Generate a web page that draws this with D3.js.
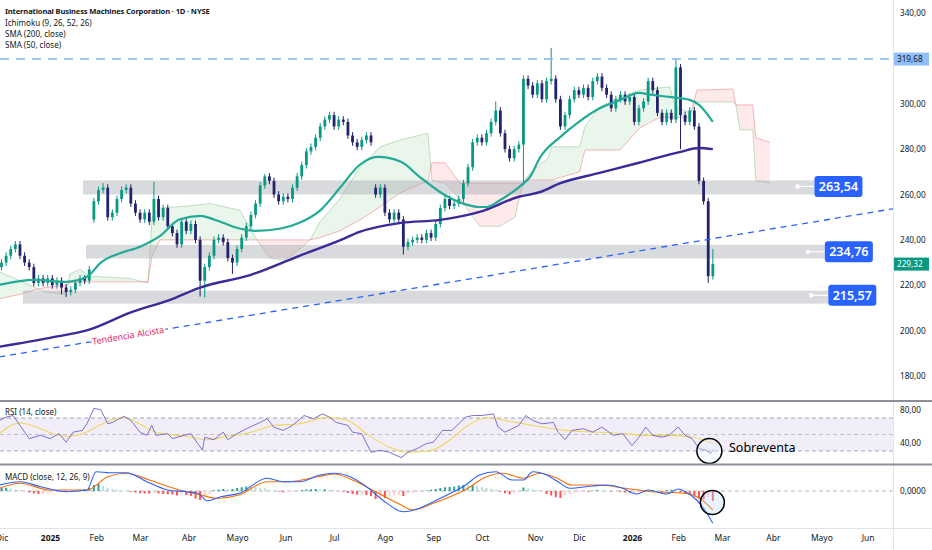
<!DOCTYPE html>
<html>
<head>
<meta charset="utf-8">
<script src="https://cdn.jsdelivr.net/npm/d3@7"></script>
<style>
  html, body { margin: 0; padding: 0; background: #fff; }
  svg { display: block; font-family: "Noto Sans", sans-serif; }
</style>
</head>
<body>
<div id="chart"></div>
<script>
// ---- data (bar index = trading days from 2 Jan 2025) ----
const firstBar = -21, barStep = 2;
const closes = [230,233,236,238,233,230,228,221,223,221,
  223,220,222,219,217,218,221,223,222,227,
  257,262,263,250,252,258,262,263,256,252,
  249,252,248,258,250,254,246,243,238,248,
  244,247,240,222,228,233,240,241,239,232,
  230,236,241,246,251,256,264,268,266,260,
  257,259,258,263,268,273,279,281,285,290,
  293,295,290,293,292,286,283,281,284,286,
  283,260,263,252,249,252,249,237,239,240,
  241,240,243,241,247,254,258,255,256,258,
  265,272,283,285,283,287,292,297,287,280,
  276,280,282,311,308,304,309,302,310,311,
  302,290,295,302,306,304,307,303,310,312,
  307,304,298,302,304,301,303,292,298,301,
  310,306,296,292,296,293,316,295,292,297,
  290,266,257,224,229.32];
const gapOpens = { 0: 228, 20: 249, 81: 263 };
const spikeHighs = { 22: 265, 33: 265.6, 57: 269, 107: 301, 119: 324.6, 146: 319.5, 154: 236 };
const spikeLows = { 13: 216, 14: 214.8, 43: 215, 44: 214.5, 50: 225, 87: 233.5, 113: 264, 147: 280, 153: 221 };

const sma50Idx = [-22,-7,7,16,22,30,39,48,56,65,71,82,89,100,108,117,126,134,142,152,160,169,178,186,189,195,204,208,212,221,229,238,247,255,260,268,277,281,287];
const sma50Vals = [220.2,222.4,221.5,223.7,230,234,237,242,249,250.6,249,245,244,245,247.5,253,263.5,273,276.6,274.4,267.8,261,256.3,254.5,254.5,257.6,264,268,276,285.4,292,298,301.7,304.8,304,303,301.7,299.5,292];
const sma200Idx = [-22,0,17,35,52,65,87,108,126,134,152,169,186,203,212,221,238,255,273,281,287];
const sma200Vals = [192.9,196.8,200.4,208,213.6,219,224.6,233,240,243.5,247.5,248.8,252.3,259,261,265,269.5,274,278.8,280.5,280];

const cloudIdx = [-22,-13,-6.5,-2.2,6.5,8.7,13,17.3,34.6,42.4,44.2,47.6,60.6,69.3,82.3,89.6,95.2,101.7,108.2,112.6,116.9,125.5,134.2,142.9,151.5,163.6,165.4,171,177.5,186.1,194.8,201.3,204.8,207.8,215.6,217.3,229.4,231.6,238.1,246.8,255.4,264.1,268.4,270.6,277.1,280.1,295.7,297,298.7,304.3,305.6,311.7];
const spanA = [226,222,219,217,216,225,227,224,223,221,250,254,255,256,253,240,232,231,236,240,248,258,272,281,284,287,266,265,258,246,246,250,265,269.5,276,281,281,290,298.6,303,306,307,307.4,298.6,296,300.8,300.8,299.5,288.5,288.5,266,265];
const spanB = [214,216,218,219,220,221,221.5,221.5,221.5,221.5,233,240,240,240,240,240,240,240,240,240,241,244,248.8,254.5,260.7,266,274,274,265,265,265,265,265,266.4,266.4,266.4,270,279.6,279.6,279.6,289.4,294,294,294,294,306,306.5,299.5,299.5,299.5,285,283];

const rsiIdx = [-22,-19,-16,-13,-9,-4,0,4,7,10,14,16,19,22,25,27,32,35,39,42,44,46,51,53,58,61,64,66,67,71,75,77,81,85,91,94,97,101,105,110,114,118,121,124,129,131,135,139,143,147,152,155,159,163,166,170,174,180,183,187,192,194,197,200,203,206,209,213,218,220,223,226,231,235,239,244,248,252,255,258,261,265,268,272,275,278,281,284,286,287];
const rsiVals = [67,71,73,61,45,49,45,51,40.6,52.8,55,63,81.7,80,63,64.6,72,67,52.8,49,61,49,51,45,49,51,39,31,46.7,43.7,52.8,43.7,51,57,64.6,69,58.8,55,61,73,69,75,71,64.6,61,52.8,51,28.4,31,28.4,22,28.4,33,39,40.6,55,55,71,73,73,75,59,52.8,57,61,73,67,63,64.6,52.8,43.7,55,57,52.8,59,49,51,36.6,46.7,59,49,46.7,49,59,49,45,33,31,26.8,31];
const rsiMaIdx = [-22,-13,7,14,26,32,40,46,59,68,77,87,97,108,120,129,137,147,156,165,173,180,189,197,209,223,238,249,258,270,278,287];
const rsiMaVals = [51,64,47.8,51,67,70.6,61,52.8,47.8,43.7,47.8,52.8,61,63,70.6,67,51,34.6,28.4,30.6,43,59,70.6,67,61,55,52.8,51,49,49,47,39];

const macdIdx = [-22,-13,-4,7,16,20,26,33,42,51,59,64,68,74,82,94,101,108,117,123,130,137,144,153,160,169,180,186,193,200,205,209,215,220,225,235,241,248,254,259,267,272,275,280,284,287];
const macdVals = [2.4,3.7,1.7,-0.3,0.4,7.7,7.3,7.3,3.7,0.4,-0.3,-0.9,-3.9,-2.3,-0.9,5.1,3.7,3.7,6.4,7.1,5.7,1.7,-3.6,-8.3,-6.9,-2.9,2.4,6.4,7.7,4.4,4.4,7.7,6.4,3.7,1.1,2,2.4,1.1,-1.2,0.4,-1.2,0.8,-0.3,-3.6,-8.3,-12.9];
const signalIdx = [-22,-13,0,16,25,33,43,56,65,72,82,94,103,116,123,131,141,152,157,166,180,189,196,205,212,219,226,238,249,261,272,278,284,287];
const signalVals = [1.1,3.1,0.4,0.4,5.7,7.1,4.4,0.4,-1.5,-2.9,-1.5,3.7,3.7,5.7,6.8,4.4,-0.3,-5.6,-7.6,-4.9,0.6,5.7,7.1,5.1,7.1,5.4,2.4,2.4,1.1,-0.3,-0.7,-1.5,-4.9,-7.6];
const histVals = [1.2,1.3,1.0,0.7,0.4,0.1,-0.6,-1.0,-1.2,-1.0,
  -0.8,-0.6,-0.5,-0.3,-0.4,-0.2,0.3,0.5,0.8,1.2,
  2.4,2.8,2.0,1.2,0.8,0.5,0.2,0.1,-0.3,-0.6,
  -0.9,-1.0,-1.1,-0.8,-1.0,-1.2,-1.3,-1.4,-1.8,-1.3,
  -1.6,-2.0,-3.0,-3.6,-2.2,-1.2,0.3,0.6,0.8,0.6,
  0.8,1.2,1.5,1.8,1.6,1.4,1.2,1.1,0.6,0.2,
  -0.3,-0.5,-0.4,-0.2,0.1,0.4,0.6,0.7,0.8,0.7,
  0.7,0.5,0.3,0.2,-0.3,-0.8,-1.2,-1.5,-1.4,-1.6,
  -2.0,-3.2,-2.8,-2.8,-2.2,-1.8,-1.6,-2.0,-1.2,-0.8,
  -0.5,-0.3,0.2,0.5,0.8,1.2,1.5,1.6,1.8,2.2,
  2.4,2.3,2.5,2.0,1.5,1.2,0.9,0.6,-0.2,-0.9,
  -1.4,-1.0,-0.5,1.4,1.0,0.6,0.4,0.1,-1.2,-1.8,
  -2.5,-2.8,-1.8,-1.2,-0.8,-0.5,-0.3,-0.3,0.2,0.3,
  0.2,0.1,-0.2,-0.1,-0.4,-0.6,-0.8,-0.7,-0.4,-0.2,
  0.2,0.3,-0.2,-0.4,0.3,0.5,0.4,-0.6,-1.2,-1.6,
  -2.2,-3.0,-3.4,-2.4,-4.0];

const zoneLevels = [263.54, 234.76, 215.57];
const zoneTop = [266.2, 237.8, 217.6];
const zoneBottom = [260.0, 231.8, 211.9];
const zoneStart = [14.3, 15.6, -11.7];
const zoneLabelIdx = [331, 335.5, 337];

const highLine = 319.68;
const lastPrice = 229.32;
const trendIdx = [-22, 365];
const trendPrice = [188.4, 253.7];

const priceTicks = [180, 200, 220, 240, 260, 280, 300, 340];
const rsiTicks = [80, 40];
const macdTicks = [0];
const monthIdx = [-21, 0, 20, 39, 60, 81, 102, 123, 145, 166, 187, 210, 229, 252, 272, 291, 313, 334, 354];
const monthLabels = ['Dic','2025','Feb','Mar','Abr','Mayo','Jun','Jul','Ago','Sep','Oct','Nov','Dic','2026','Feb','Mar','Abr','Mayo','Jun'];
const legendLines = ['International Business Machines Corporation · 1D · NYSE', 'Ichimoku (9, 26, 52, 26)', 'SMA (200, close)', 'SMA (50, close)'];

// ---- chart ----
(function () {
  'use strict';
  const W = 932, H = 550, plotR = 893;
  const txt = '#131722', grid = '#e0e3eb';
  const upCol = '#089981', dnCol = '#22226e';

  const x = d3.scaleLinear().domain([0, 252]).range([50, 632]);
  const y = d3.scaleLinear().domain([180, 340]).range([376, 13]);
  const yR = d3.scaleLinear().domain([30, 70]).range([451, 418]);
  const yM = d3.scaleLinear().domain([0, 10]).range([491, 466]);
  const comma = (f) => (v) => d3.format(f)(v).replace('.', ',');

  const svg = d3.select('#chart').append('svg').attr('width', W).attr('height', H);
  const defs = svg.append('defs');
  defs.append('clipPath').attr('id', 'cMain').append('rect').attr('x', 0).attr('y', 0).attr('width', plotR).attr('height', 400);
  defs.append('clipPath').attr('id', 'cRsi').append('rect').attr('x', 0).attr('y', 402).attr('width', plotR).attr('height', 62);
  defs.append('clipPath').attr('id', 'cMacd').append('rect').attr('x', 0).attr('y', 466).attr('width', plotR).attr('height', 62);

  const cloud = cloudIdx.map((d, i) => ({ idx: d, a: spanA[i], b: spanB[i] }));
  defs.append('clipPath').attr('id', 'cUp').append('path')
    .attr('d', d3.area().x((d) => x(d.idx)).y0(0).y1((d) => y(d.b))(cloud));
  defs.append('clipPath').attr('id', 'cDn').append('path')
    .attr('d', d3.area().x((d) => x(d.idx)).y0(400).y1((d) => y(d.b))(cloud));

  const main = svg.append('g').attr('clip-path', 'url(#cMain)');

  // ichimoku cloud
  const between = d3.area().x((d) => x(d.idx)).y0((d) => y(d.b)).y1((d) => y(d.a));
  main.append('g').attr('clip-path', 'url(#cUp)').append('path').datum(cloud)
    .attr('d', between).attr('fill', '#43a047').attr('opacity', 0.11);
  main.append('g').attr('clip-path', 'url(#cDn)').append('path').datum(cloud)
    .attr('d', between).attr('fill', '#f23645').attr('opacity', 0.11);
  main.append('path').datum(cloud).attr('fill', 'none').attr('stroke', '#43a047').attr('stroke-opacity', 0.3)
    .attr('d', d3.line().x((d) => x(d.idx)).y((d) => y(d.a)));
  main.append('path').datum(cloud).attr('fill', 'none').attr('stroke', '#f23645').attr('stroke-opacity', 0.35)
    .attr('d', d3.line().x((d) => x(d.idx)).y((d) => y(d.b)));

  // zones
  zoneLevels.forEach((lv, i) => {
    const x0 = x(zoneStart[i]), x1 = x(zoneLabelIdx[i]);
    main.append('rect').attr('x', x0).attr('y', y(zoneTop[i]))
      .attr('width', x1 - x0).attr('height', y(zoneBottom[i]) - y(zoneTop[i]))
      .attr('fill', '#a3a6ad').attr('opacity', 0.42);
  });

  // candles
  const candles = closes.map((c, i) => {
    const o = gapOpens[i] != null ? gapOpens[i] : closes[i - 1];
    return {
      idx: firstBar + i * barStep, o, c,
      h: spikeHighs[i] != null ? spikeHighs[i] : Math.max(o, c) + 1.5,
      l: spikeLows[i] != null ? spikeLows[i] : Math.min(o, c) - 1.5
    };
  });
  const cg = main.append('g');
  cg.selectAll('line').data(candles).enter().append('line')
    .attr('x1', (d) => x(d.idx)).attr('x2', (d) => x(d.idx))
    .attr('y1', (d) => y(d.h)).attr('y2', (d) => y(d.l))
    .attr('stroke', (d) => d.c >= d.o ? upCol : dnCol).attr('stroke-width', 1);
  cg.selectAll('rect').data(candles).enter().append('rect')
    .attr('x', (d) => x(d.idx) - 1.4).attr('width', 2.8)
    .attr('y', (d) => y(Math.max(d.o, d.c)))
    .attr('height', (d) => Math.max(1, Math.abs(y(d.o) - y(d.c))))
    .attr('fill', (d) => d.c >= d.o ? upCol : dnCol);

  // moving averages
  const pts = (ix, vs) => ix.map((d, i) => ({ idx: d, v: vs[i] }));
  const maLine = d3.line().curve(d3.curveMonotoneX).x((d) => x(d.idx)).y((d) => y(d.v));
  main.append('path').datum(pts(sma200Idx, sma200Vals)).attr('d', maLine)
    .attr('fill', 'none').attr('stroke', '#3a2a9a').attr('stroke-width', 2.4);
  main.append('path').datum(pts(sma50Idx, sma50Vals)).attr('d', maLine)
    .attr('fill', 'none').attr('stroke', '#22ab94').attr('stroke-width', 2.2);

  // top dashed line
  main.append('line').attr('x1', 0).attr('x2', plotR).attr('y1', y(highLine)).attr('y2', y(highLine))
    .attr('stroke', '#7fb2f0').attr('stroke-width', 1.5).attr('stroke-dasharray', '9,7');

  // trend line
  const tr = d3.scaleLinear().domain(trendIdx).range(trendPrice);
  main.append('line')
    .attr('x1', x(trendIdx[0])).attr('y1', y(trendPrice[0]))
    .attr('x2', x(trendIdx[1])).attr('y2', y(trendPrice[1]))
    .attr('stroke', '#2962ff').attr('stroke-width', 1.3).attr('stroke-dasharray', '6,5');
  const ang = Math.atan2(y(trendPrice[1]) - y(trendPrice[0]), x(trendIdx[1]) - x(trendIdx[0])) * 180 / Math.PI;
  const tIdx = 33.8;
  main.append('text').attr('transform', `translate(${x(tIdx)},${y(tr(tIdx))}) rotate(${ang})`)
    .attr('text-anchor', 'middle').attr('dy', '0.35em').attr('font-size', 9)
    .attr('fill', '#e91e63').attr('stroke', '#fff').attr('stroke-width', 4)
    .attr('paint-order', 'stroke').text('Tendencia Alcista');

  // zone labels
  zoneLevels.forEach((lv, i) => {
    const lx = x(zoneLabelIdx[i]), cy = y(lv);
    svg.append('line').attr('x1', lx - 17).attr('x2', lx).attr('y1', cy).attr('y2', cy)
      .attr('stroke', '#fff').attr('stroke-width', 1.2);
    svg.append('circle').attr('cx', lx - 17).attr('cy', cy).attr('r', 2.2).attr('fill', '#fff');
    svg.append('rect').attr('x', lx).attr('y', cy - 10.5).attr('width', 48).attr('height', 21)
      .attr('rx', 3).attr('fill', '#2962ff');
    svg.append('text').attr('x', lx + 24).attr('y', cy).attr('dy', '0.36em').attr('text-anchor', 'middle')
      .attr('fill', '#fff').attr('font-size', 12.5).attr('font-weight', 600).text(comma('.2f')(lv));
  });

  // ---- RSI pane ----
  const rsiG = svg.append('g').attr('clip-path', 'url(#cRsi)');
  rsiG.append('rect').attr('x', 0).attr('width', plotR).attr('y', yR(70)).attr('height', yR(30) - yR(70))
    .attr('fill', '#7e57c2').attr('opacity', 0.1);
  [70, 50, 30].forEach((v) => {
    rsiG.append('line').attr('x1', 0).attr('x2', plotR).attr('y1', yR(v)).attr('y2', yR(v))
      .attr('stroke', '#787b86').attr('stroke-opacity', v === 50 ? 0.45 : 0.7)
      .attr('stroke-dasharray', '4,3').attr('stroke-width', 0.9);
  });
  rsiG.append('path').datum(pts(rsiMaIdx, rsiMaVals))
    .attr('d', d3.line().curve(d3.curveMonotoneX).x((d) => x(d.idx)).y((d) => yR(d.v)))
    .attr('fill', 'none').attr('stroke', '#f0d75a').attr('stroke-width', 1.1);
  rsiG.append('path').datum(pts(rsiIdx, rsiVals))
    .attr('d', d3.line().x((d) => x(d.idx)).y((d) => yR(d.v)))
    .attr('fill', 'none').attr('stroke', '#7e6fd0').attr('stroke-width', 1);

  // ---- MACD pane ----
  const mG = svg.append('g').attr('clip-path', 'url(#cMacd)');
  mG.append('line').attr('x1', 0).attr('x2', plotR).attr('y1', yM(0)).attr('y2', yM(0))
    .attr('stroke', '#787b86').attr('stroke-opacity', 0.55).attr('stroke-dasharray', '4,3');
  const hist = histVals.map((v, i) => ({ idx: firstBar + i * barStep, v, p: i ? histVals[i - 1] : v }));
  mG.selectAll('rect.h').data(hist).enter().append('rect').attr('class', 'h')
    .attr('x', (d) => x(d.idx) - 1).attr('width', 2)
    .attr('y', (d) => Math.min(yM(0), yM(d.v)))
    .attr('height', (d) => Math.abs(yM(d.v) - yM(0)))
    .attr('fill', (d) => d.v >= 0 ? (d.v >= d.p ? '#26a69a' : '#b2dfdb') : (d.v <= d.p ? '#ff5252' : '#ffcdd2'));
  const mLine = d3.line().curve(d3.curveMonotoneX).x((d) => x(d.idx)).y((d) => yM(d.v));
  mG.append('path').datum(pts(signalIdx, signalVals)).attr('d', mLine)
    .attr('fill', 'none').attr('stroke', '#ff6d00').attr('stroke-width', 1.1);
  mG.append('path').datum(pts(macdIdx, macdVals)).attr('d', mLine)
    .attr('fill', 'none').attr('stroke', '#2962ff').attr('stroke-width', 1.1);

  // oversold annotations
  svg.append('circle').attr('cx', x(285.5)).attr('cy', yR(30)).attr('r', 12.5)
    .attr('fill', '#e3f2fd').attr('fill-opacity', 0.35).attr('stroke', '#000').attr('stroke-width', 1.5);
  svg.append('circle').attr('cx', x(286.8)).attr('cy', yM(-4.6)).attr('r', 12)
    .attr('fill', '#bbdefb').attr('fill-opacity', 0.35).attr('stroke', '#000').attr('stroke-width', 1.5);
  svg.append('text').attr('x', x(294)).attr('y', yR(30) - 3).attr('dy', '0.35em')
    .attr('font-size', 12.5).attr('fill', '#000').text('Sobreventa');

  // ---- frames ----
  svg.append('line').attr('x1', plotR + 0.5).attr('x2', plotR + 0.5).attr('y1', 0).attr('y2', H).attr('stroke', grid);
  svg.append('line').attr('x1', 0).attr('x2', W).attr('y1', 528.5).attr('y2', 528.5).attr('stroke', grid);
  [401, 464.5].forEach((yy) => svg.append('line').attr('x1', 0).attr('x2', W).attr('y1', yy).attr('y2', yy)
    .attr('stroke', '#8c8f98').attr('stroke-width', 1.8));

  // ---- axes ----
  const styleAxis = (g) => {
    g.select('.domain').remove();
    g.selectAll('text').attr('fill', txt).attr('font-size', 8.2).attr('font-family', '"Noto Sans", sans-serif');
  };
  svg.append('g').attr('transform', `translate(${plotR + 4},0)`)
    .call(d3.axisRight(y).tickValues(priceTicks).tickSize(0).tickFormat(comma('.2f'))).call(styleAxis);
  svg.append('g').attr('transform', `translate(${plotR + 4},0)`)
    .call(d3.axisRight(yR).tickValues(rsiTicks).tickSize(0).tickFormat(comma('.2f'))).call(styleAxis);
  svg.append('g').attr('transform', `translate(${plotR + 4},0)`)
    .call(d3.axisRight(yM).tickValues(macdTicks).tickSize(0).tickFormat(comma('.4f'))).call(styleAxis);
  const xa = svg.append('g').attr('transform', 'translate(0,532)')
    .call(d3.axisBottom(x).tickValues(monthIdx).tickSize(0).tickFormat((d, i) => monthLabels[i])).call(styleAxis);
  xa.selectAll('text').attr('font-size', 8.5).attr('font-weight', (d, i) => /^\d/.test(monthLabels[i]) ? 700 : 400);

  // axis price tags
  const tag = (v, bg, fg) => {
    svg.append('rect').attr('x', plotR + 1).attr('y', y(v) - 6.5).attr('width', 35).attr('height', 13).attr('fill', bg);
    svg.append('text').attr('x', plotR + 4).attr('y', y(v)).attr('dy', '0.35em')
      .attr('font-size', 8.2).attr('fill', fg).text(comma('.2f')(v));
  };
  tag(highLine, '#90bff9', txt);
  tag(lastPrice, '#089981', '#fff');

  // ---- legends ----
  legendLines.forEach((t, i) => {
    svg.append('text').attr('x', 5).attr('y', [14, 26, 37, 48][i]).attr('font-size', i === 0 ? 7.6 : 8)
      .attr('font-weight', i === 0 ? 700 : 400).attr('letter-spacing', i === 0 ? -0.15 : 0)
      .attr('fill', txt).text(t);
  });
  svg.append('text').attr('x', 5).attr('y', 415).attr('font-size', 8).attr('fill', txt).text('RSI (14, close)');
  svg.append('text').attr('x', 5).attr('y', 480).attr('font-size', 8).attr('fill', txt).text('MACD (close, 12, 26, 9)');
})();
</script>
</body>
</html>
